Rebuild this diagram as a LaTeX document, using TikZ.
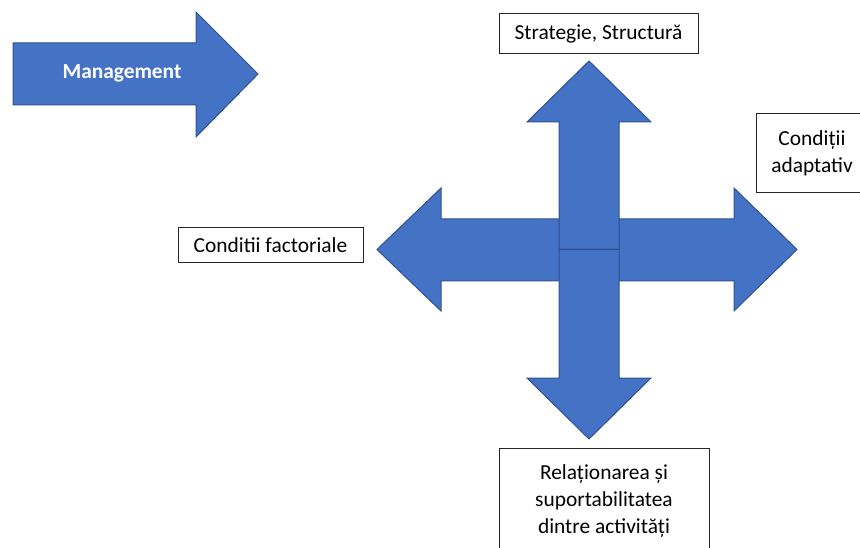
\documentclass[tikz,border=0pt]{standalone}
\usepackage{fontspec}
\setmainfont{Carlito}

\definecolor{arrowblue}{HTML}{4472C4}
\definecolor{arrowedge}{HTML}{2F528F}
\tikzset{
  bigarrow/.style={fill=arrowblue,draw=arrowedge,line width=1pt,line join=miter},
  labelbox/.style={draw=black!85,line width=1pt,fill=white,align=center,inner sep=0pt},
}

\begin{document}
\begin{tikzpicture}[x=1pt,y=-1pt,font=\fontsize{21.4}{26.8}\selectfont]
\useasboundingbox (0,0) rectangle (860,548);
% management arrow
\draw[bigarrow] (13,43)--(196,43)--(196,12)--(258,74)--(196,137)--(196,105)--(13,105)--cycle;
\node[text=white,font=\fontsize{21.4}{26.8}\selectfont\bfseries] (mgmt) at (122,73) {Management};
% the cross
\draw[bigarrow] (377,249.5)--(441,188)--(441,219)--(734,219)--(734,188)--(797,249.5)--(734,311)--(734,281)--(441,281)--(441,311)--cycle;
\draw[bigarrow] (589,61)--(651,122)--(619,122)--(619,249.5)--(559,249.5)--(559,122)--(527,122)--cycle;
\draw[bigarrow] (589,439)--(651,378)--(619,378)--(619,249.5)--(559,249.5)--(559,378)--(527,378)--cycle;
% labels
\node[labelbox,minimum width=199,minimum height=40] (strat) at (598.5,34) {Strategie, Structură};
\node[labelbox,minimum width=185,minimum height=35] (factor) at (270.5,245.5) {Conditii factoriale};
\node[labelbox,minimum width=112,minimum height=79] (adapt) at (812,153.5) {Condiții\\adaptativ};
\node[labelbox,minimum width=210,minimum height=106] (relat) at (604,501) {Relaționarea și\\suportabilitatea\\dintre activități};
\end{tikzpicture}
\end{document}
